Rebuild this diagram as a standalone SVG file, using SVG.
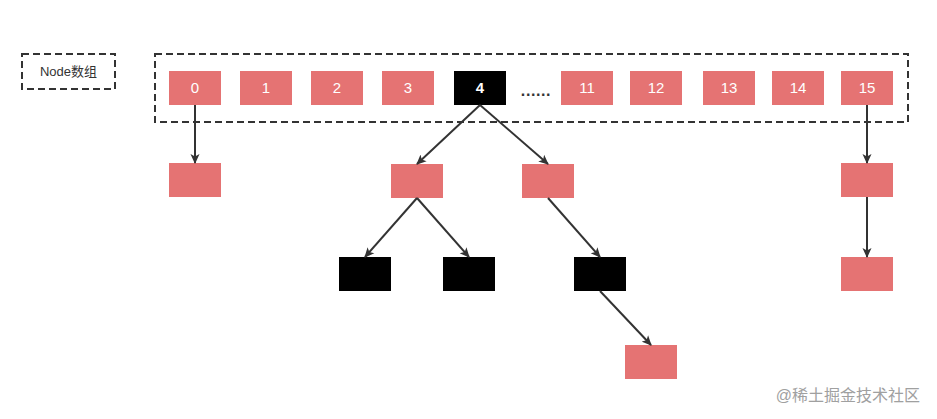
<svg xmlns="http://www.w3.org/2000/svg" width="937" height="419" viewBox="0 0 937 419">
<defs>
<marker id="ah" viewBox="0 0 10 10" refX="9" refY="5" markerWidth="10" markerHeight="10" markerUnits="userSpaceOnUse" orient="auto">
<path d="M0,0.5 L10,5 L0,9.5 L2.5,5 Z" fill="#333"/>
</marker>
<style>
.dash{fill:none;stroke:#333;stroke-width:2;stroke-dasharray:7,4}
.p{fill:#e57373}
.b{fill:#000}
.t{font-family:"Liberation Sans",Arial,sans-serif;font-size:15px;fill:#fff;text-anchor:middle}
.c{fill:none;stroke:#333;stroke-width:2;marker-end:url(#ah)}
</style>
</defs>
<rect width="937" height="419" fill="#fff"/>
<g id="legend">
<rect class="dash" x="22" y="54" width="93" height="35"/>
<text x="68.5" y="76" font-family="'Liberation Sans','Noto Sans CJK SC',sans-serif" font-size="13" fill="#333" text-anchor="middle">Node数组</text>
</g>
<g id="array">
<rect class="dash" x="155" y="54" width="753" height="68"/>
</g>
<g id="cell0"><rect class="p" x="169" y="71" width="52" height="34"/><text class="t" x="195" y="93">0</text></g>
<g id="cell1"><rect class="p" x="240" y="71" width="52" height="34"/><text class="t" x="266" y="93">1</text></g>
<g id="cell2"><rect class="p" x="311" y="71" width="52" height="34"/><text class="t" x="337" y="93">2</text></g>
<g id="cell3"><rect class="p" x="382" y="71" width="52" height="34"/><text class="t" x="408" y="93">3</text></g>
<g id="cell4"><rect class="b" x="454" y="71" width="52" height="34"/><text class="t" x="480" y="93" font-weight="bold">4</text></g>
<g id="dots"><text x="536" y="96" font-family="'Liberation Sans',Arial,sans-serif" font-size="16" font-weight="bold" fill="#333" text-anchor="middle" letter-spacing="0.6">......</text></g>
<g id="cell11"><rect class="p" x="561" y="71" width="52" height="34"/><text class="t" x="587" y="93">11</text></g>
<g id="cell12"><rect class="p" x="630" y="71" width="52" height="34"/><text class="t" x="656" y="93">12</text></g>
<g id="cell13"><rect class="p" x="703" y="71" width="52" height="34"/><text class="t" x="729" y="93">13</text></g>
<g id="cell14"><rect class="p" x="772" y="71" width="52" height="34"/><text class="t" x="798" y="93">14</text></g>
<g id="cell15"><rect class="p" x="841" y="71" width="52" height="34"/><text class="t" x="867" y="93">15</text></g>
<g id="n0"><rect class="p" x="169" y="163" width="52" height="34"/></g>
<g id="n4l"><rect class="p" x="391" y="164" width="52" height="34"/></g>
<g id="n4r"><rect class="p" x="522" y="164" width="52" height="34"/></g>
<g id="n15a"><rect class="p" x="841" y="163" width="52" height="34"/></g>
<g id="n4ll"><rect class="b" x="339" y="257" width="52" height="34"/></g>
<g id="n4lr"><rect class="b" x="443" y="257" width="52" height="34"/></g>
<g id="n4rr"><rect class="b" x="574" y="257" width="52" height="34"/></g>
<g id="n15b"><rect class="p" x="841" y="257" width="52" height="34"/></g>
<g id="n4rrr"><rect class="p" x="625" y="345" width="52" height="34"/></g>
<g id="connectors">
<line class="c" x1="195" y1="105" x2="195" y2="163"/>
<line class="c" x1="480" y1="105" x2="417" y2="164"/>
<line class="c" x1="480" y1="105" x2="548" y2="164"/>
<line class="c" x1="417" y1="198" x2="365" y2="257"/>
<line class="c" x1="417" y1="198" x2="469" y2="257"/>
<line class="c" x1="548" y1="198" x2="600" y2="257"/>
<line class="c" x1="600" y1="291" x2="651" y2="345"/>
<line class="c" x1="867" y1="105" x2="867" y2="163"/>
<line class="c" x1="867" y1="197" x2="867" y2="257"/>
</g>
<text x="920" y="401" font-family="'Liberation Sans','Noto Sans CJK SC',sans-serif" font-size="16" fill="#a0a0a0" text-anchor="end">@稀土掘金技术社区</text>
</svg>
